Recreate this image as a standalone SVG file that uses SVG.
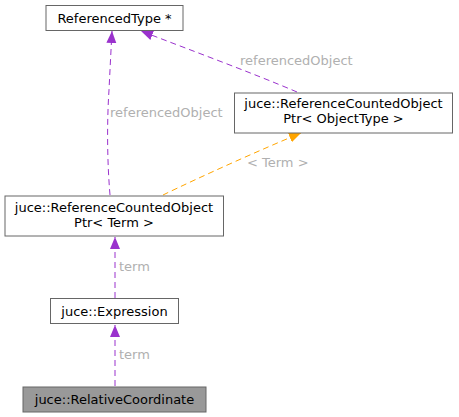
<svg xmlns="http://www.w3.org/2000/svg" width="459" height="417" viewBox="0 0 459 417">
<style>
.box{fill:#fff;stroke:#666;stroke-width:1}
.gray{fill:#999;stroke:#666;stroke-width:1}
.t{font-family:"DejaVu Sans",sans-serif;font-size:13px;fill:#000;text-anchor:middle}
.l{font-family:"DejaVu Sans",sans-serif;font-size:13px;fill:#b0b0b0}
.ep{fill:none;stroke:#9a32cd;stroke-dasharray:6,4}
.eo{fill:none;stroke:orange;stroke-dasharray:6,4}
</style>
<defs>
<marker id="ap" markerWidth="13" markerHeight="11" refX="12" refY="5.5" orient="auto" markerUnits="userSpaceOnUse"><path d="M0,0.5 L12,5.5 L0,10.5 Z" fill="#9a32cd"/></marker>
<marker id="ao" markerWidth="13" markerHeight="11" refX="12" refY="5.5" orient="auto" markerUnits="userSpaceOnUse"><path d="M0,0.5 L12,5.5 L0,10.5 Z" fill="orange"/></marker>
</defs>
<g id="edges">
<path class="ep" d="M110,195 C107,160 107,120 109,90 C110,70 111,50 112,31" marker-end="url(#ap)"/>
<path class="ep" d="M297,92 C250,72 190,50 141,31" marker-end="url(#ap)"/>
<path class="eo" d="M163,195 C200,177 260,150 301,133" marker-end="url(#ao)"/>
<path class="ep" d="M115,298 L115,237" marker-end="url(#ap)"/>
<path class="ep" d="M115,386 L115,325" marker-end="url(#ap)"/>
<text class="l" x="110" y="117">referencedObject</text>
<text class="l" x="240" y="65">referencedObject</text>
<text class="l" x="247" y="167">&lt; Term &gt;</text>
<text class="l" x="119" y="271">term</text>
<text class="l" x="119" y="359">term</text>
</g>
<g id="referencedType"><rect class="box" x="46" y="5.5" width="137" height="25"/><text class="t" x="114.5" y="22.5">ReferencedType *</text></g>
<g id="rcopObjectType"><rect class="box" x="234.5" y="93" width="218" height="40"/><text class="t" x="343.5" y="108">juce::ReferenceCountedObject</text><text class="t" x="343.5" y="123">Ptr&lt; ObjectType &gt;</text></g>
<g id="rcopTerm"><rect class="box" x="5" y="196" width="218.5" height="40"/><text class="t" x="114" y="211.5">juce::ReferenceCountedObject</text><text class="t" x="114" y="226.5">Ptr&lt; Term &gt;</text></g>
<g id="expression"><rect class="box" x="50.5" y="298.5" width="128" height="25"/><text class="t" x="114.5" y="315.5">juce::Expression</text></g>
<g id="relativeCoordinate"><rect class="gray" x="23" y="387" width="183" height="25"/><text class="t" x="114.5" y="404">juce::RelativeCoordinate</text></g>
</svg>
